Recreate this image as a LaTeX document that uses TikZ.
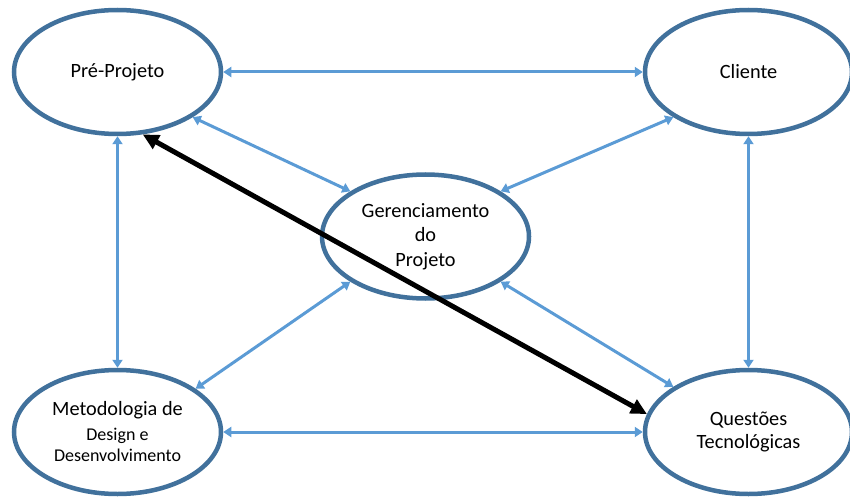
\documentclass[tikz,border=0pt]{standalone}
\usepackage{fontspec}
\setmainfont{Carlito}
\usetikzlibrary{shapes.geometric,arrows.meta}
\definecolor{rim}{HTML}{41719C}
\definecolor{linkblue}{HTML}{5B9BD5}
\newcommand{\smalltxt}{\fontsize{18}{21}\selectfont}
\begin{document}
\begin{tikzpicture}[x=1pt,y=-1pt,
  topic/.style={ellipse,draw=rim,line width=4.5pt,fill=white,
    minimum width=207pt,minimum height=124pt,inner sep=0pt,
    align=center,font=\fontsize{20.3}{24.5}\selectfont},
  link/.style={draw=linkblue,line width=3pt,
    {Triangle[length=8pt,width=10pt]}-{Triangle[length=8pt,width=10pt]}},
  mainlink/.style={draw=black,line width=5pt,
    {Triangle[length=16pt,width=15pt]}-{Triangle[length=16pt,width=15pt]}}]
\useasboundingbox (0,0) rectangle (850,497);
\clip (0,0) rectangle (850,497);

% the five topics
\node[topic] (pre) at (117.5,72) {Pré-Projeto};
\node[topic] (cli) at (748.5,72) {Cliente};
\node[topic] (ger) at (425.5,236.5) {Gerenciamento\\do\\Projeto};
\node[topic] (met) at (117.5,432) {Metodologia de\\{\smalltxt Design e}\\[-3pt]{\smalltxt Desenvolvimento}};
\node[topic] (que) at (748.5,432) {Questões\\[-2pt]Tecnológicas};

% outer frame of relations
\draw[link] (pre.east) -- (cli.west);
\draw[link] (met.east) -- (que.west);
\draw[link] (pre.south) -- (met.north);
\draw[link] (cli.south) -- (que.north);

% relations with the project management
\draw[link] (pre.-31) -- (ger.149);
\draw[link] (cli.211) -- (ger.31);
\draw[link] (met.29) -- (ger.211);
\draw[link] (que.149) -- (ger.-31);

% main relation
\draw[mainlink] (pre.-68) -- (que.170);
\end{tikzpicture}
\end{document}
